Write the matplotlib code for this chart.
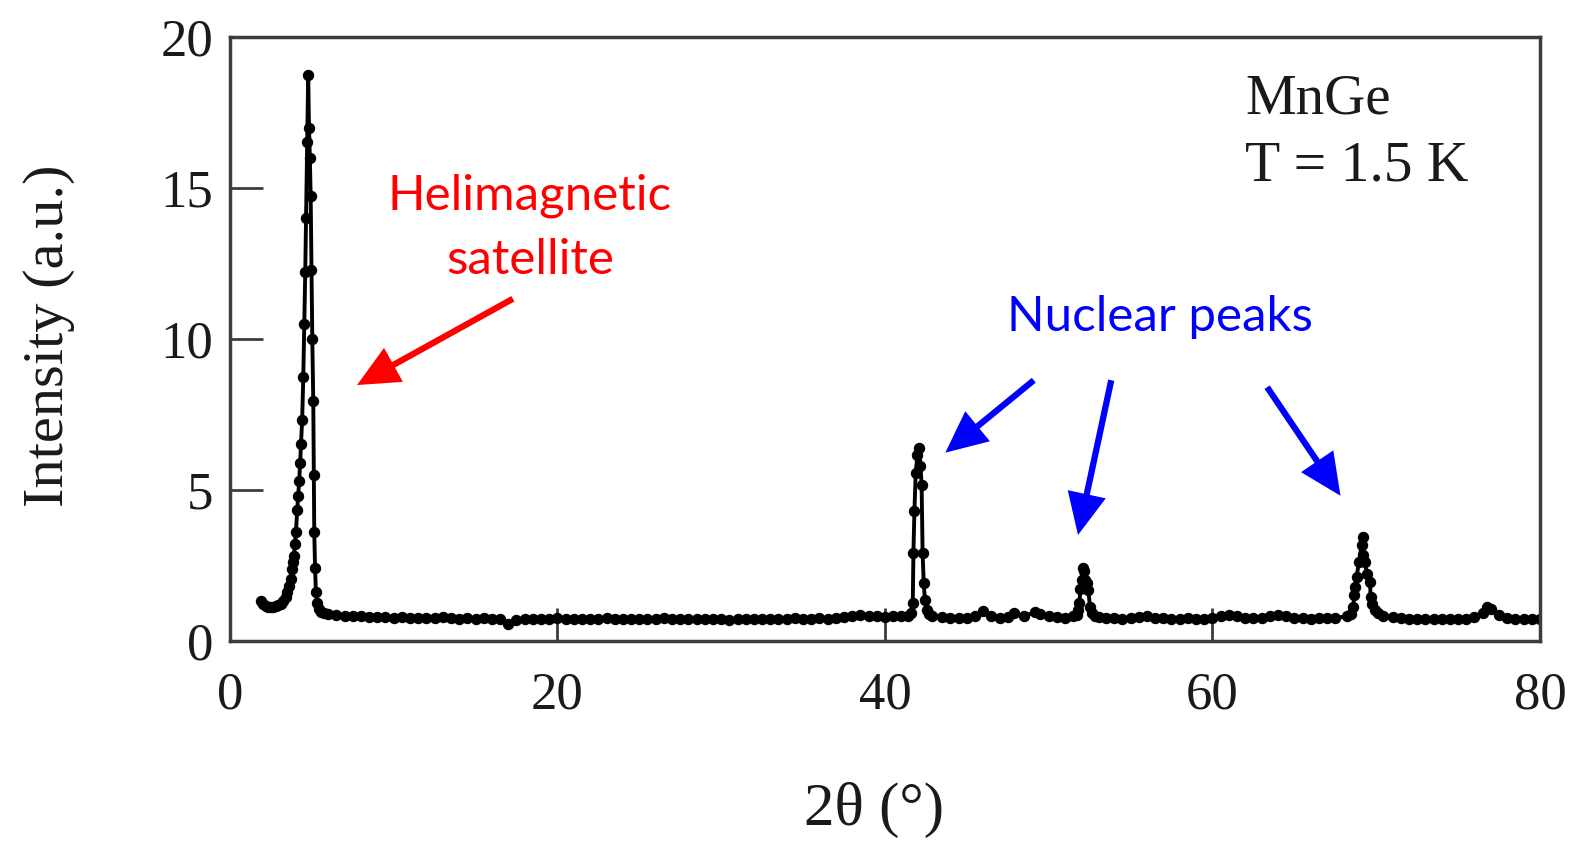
import matplotlib
matplotlib.use('Agg')
import matplotlib.pyplot as plt

# satellite peak near 2theta ~ 4.8
sat_x = [1.9, 2.05, 2.2, 2.35, 2.5, 2.65, 2.8, 2.95, 3.1, 3.25, 3.4, 3.5, 3.6, 3.7,
         3.77, 3.84, 3.91, 3.97, 4.03, 4.11, 4.17, 4.23, 4.29, 4.34, 4.41, 4.48, 4.54,
         4.6, 4.65, 4.72, 4.78, 4.83, 4.88, 4.93, 4.98, 5.03, 5.09, 5.12, 5.15, 5.2,
         5.25, 5.32, 5.42, 5.57, 5.77, 6.0]
sat_y = [1.32, 1.22, 1.16, 1.13, 1.12, 1.12, 1.14, 1.17, 1.22, 1.30, 1.45, 1.6, 1.8, 2.05,
         2.36, 2.6, 2.81, 3.2, 3.6, 4.33, 4.8, 5.3, 5.9, 6.52, 7.3, 8.74, 10.5,
         12.22, 14.0, 16.53, 18.75, 17.0, 16.0, 14.74, 12.3, 10.0, 7.93, 5.5, 3.6, 2.4,
         1.6, 1.25, 1.05, 0.95, 0.9, 0.87]

base1_x = [6.5, 7.0, 7.5, 8.0, 8.5, 9.0, 9.5, 10.0, 10.5, 11.0, 11.5, 12.0, 12.5, 13.0,
           13.5, 14.0, 14.5, 15.0, 15.5, 16.0, 16.5, 17.0, 17.5, 18.0, 18.5, 19.0, 19.5,
           20.0, 20.5, 21.0, 21.5, 22.0, 22.5, 23.0, 23.5, 24.0, 24.5, 25.0, 25.5, 26.0,
           26.5, 27.0, 27.5, 28.0, 28.5, 29.0, 29.5, 30.0, 30.5, 31.0, 31.5, 32.0, 32.5,
           33.0, 33.5, 34.0, 34.5, 35.0, 35.5, 36.0, 36.5, 37.0, 37.5, 38.0, 38.5, 39.0,
           39.5, 40.0, 40.5, 41.0]
base1_y = [0.84, 0.82, 0.80, 0.80, 0.78, 0.79, 0.77, 0.76, 0.77, 0.75, 0.76, 0.74, 0.75, 0.78,
           0.74, 0.73, 0.75, 0.72, 0.74, 0.72, 0.70, 0.55, 0.68, 0.72, 0.70, 0.73, 0.71,
           0.74, 0.72, 0.70, 0.73, 0.71, 0.72, 0.74, 0.70, 0.72, 0.71, 0.73, 0.70, 0.72,
           0.74, 0.71, 0.70, 0.73, 0.71, 0.70, 0.72, 0.71, 0.69, 0.72, 0.70, 0.71, 0.73,
           0.70, 0.72, 0.71, 0.74, 0.72, 0.73, 0.75, 0.73, 0.76, 0.78, 0.80, 0.86, 0.82,
           0.80, 0.79, 0.80, 0.82]

peak42_x = [41.4, 41.6, 41.7, 41.74, 41.8, 41.88, 41.98, 42.09, 42.17, 42.24, 42.3, 42.37,
            42.44, 42.55, 42.7, 42.9]
peak42_y = [0.82, 0.9, 1.24, 2.91, 4.3, 5.54, 6.15, 6.4, 5.8, 5.16, 2.91, 1.9,
            1.35, 1.0, 0.88, 0.8]

base2_x = [43.5, 44.0, 44.5, 45.0, 45.5, 46.0, 46.5, 47.0, 47.5, 47.9, 48.5, 49.15, 49.5,
           50.0, 50.5, 51.0]
base2_y = [0.78, 0.76, 0.74, 0.75, 0.80, 0.97, 0.82, 0.76, 0.78, 0.92, 0.80, 0.95, 0.88,
           0.82, 0.78, 0.76]

peak52_x = [51.5, 51.7, 51.8, 51.87, 51.94, 52.01, 52.07, 52.15, 52.24, 52.34, 52.42, 52.52,
            52.65, 52.85, 53.1]
peak52_y = [0.8, 0.86, 1.0, 1.24, 1.7, 2.01, 2.4, 2.3, 2.0, 1.9, 1.68, 1.12,
            0.92, 0.82, 0.78]

base3_x = [53.5, 54.0, 54.5, 55.0, 55.5, 56.0, 56.5, 57.0, 57.5, 58.0, 58.5, 59.0, 59.5,
           60.0, 60.5, 61.0, 61.5, 62.0, 62.5, 63.0, 63.5, 64.0, 64.5, 65.0, 65.5, 66.0,
           66.5, 67.0, 67.5]
base3_y = [0.76, 0.74, 0.73, 0.75, 0.78, 0.80, 0.76, 0.74, 0.73, 0.72, 0.74, 0.73, 0.72,
           0.75, 0.80, 0.85, 0.80, 0.76, 0.74, 0.76, 0.80, 0.84, 0.80, 0.76, 0.74, 0.73,
           0.75, 0.74, 0.76]

peak69_x = [68.2, 68.45, 68.6, 68.66, 68.7, 68.8, 68.95, 69.11, 69.17, 69.21, 69.3, 69.45,
            69.62, 69.66, 69.75, 69.92, 70.1, 70.4]
peak69_y = [0.8, 0.88, 1.12, 1.5, 1.79, 2.12, 2.6, 3.17, 3.44, 2.84, 2.6, 2.2,
            1.95, 1.46, 1.2, 1.01, 0.9, 0.82]

base4_x = [71.0, 71.5, 72.0, 72.5, 73.0, 73.5, 74.0, 74.5, 75.0, 75.5, 76.0, 76.5, 76.75,
           77.0, 77.5, 78.0, 78.5, 79.0, 79.5, 80.0]
base4_y = [0.78, 0.74, 0.72, 0.73, 0.71, 0.72, 0.70, 0.71, 0.72, 0.73, 0.78, 0.92, 1.1,
           1.05, 0.84, 0.76, 0.72, 0.71, 0.72, 0.73]

two_theta = sat_x + base1_x + peak42_x + base2_x + peak52_x + base3_x + peak69_x + base4_x
intensity = sat_y + base1_y + peak42_y + base2_y + peak52_y + base3_y + peak69_y + base4_y

x_ticks = [0, 20, 40, 60, 80]
y_ticks = [0, 5, 10, 15, 20]

serif = 'Liberation Serif'
sans = 'Lato'
spine_col = '#3c3c3c'
text_col = '#1a1a1a'

fig = plt.figure(figsize=(15.77, 8.42), dpi=100)
ax = fig.add_axes([0.1458, 0.2392, 0.8307, 0.7166])

ax.plot(two_theta, intensity, '-o', color='black', lw=2.8, ms=7.2)

ax.set_xlim(0, 80)
ax.set_ylim(0, 20)
ax.set_xticks(x_ticks)
ax.set_yticks(y_ticks)
ax.tick_params(direction='in', length=24, width=2, color=spine_col,
               labelsize=38, labelcolor=text_col, top=False, right=False)
ax.tick_params(axis='x', pad=22)
ax.tick_params(axis='y', pad=12)
for lab in ax.get_xticklabels() + ax.get_yticklabels():
    lab.set_fontfamily(serif)
for sp in ax.spines.values():
    sp.set_linewidth(2.5)
    sp.set_color(spine_col)

ax.set_xlabel('2θ (°)', fontsize=44, fontfamily=serif, color=text_col)
ax.xaxis.set_label_coords(0.492, -0.235)
ax.set_ylabel('Intensity (a.u.)', fontsize=42, fontfamily=serif, color=text_col)
ax.yaxis.set_label_coords(-0.118, 0.506)

ax.text(62.0, 17.95, 'MnGe', fontsize=41, fontfamily=serif, color=text_col,
        ha='left', va='center')
ax.text(62.0, 15.73, 'T = 1.5 K', fontsize=41.5, fontfamily=serif, color=text_col,
        ha='left', va='center')

ax.text(18.32, 14.73, 'Helimagnetic', fontsize=35.5, fontfamily=sans, color='red',
        ha='center', va='center')
ax.text(18.32, 12.63, 'satellite', fontsize=35.5, fontfamily=sans, color='red',
        ha='center', va='center')
ax.text(56.77, 10.73, 'Nuclear peaks', fontsize=35.5, fontfamily=sans, color='blue',
        ha='center', va='center')

arrow_style = 'simple,head_length=30,head_width=28,tail_width=4.5'
arrows = [((17.28, 11.33), (7.76, 8.47), 'red'),
          ((49.09, 8.63), (43.69, 6.23), 'blue'),
          ((53.82, 8.63), (51.79, 3.5), 'blue'),
          ((63.34, 8.4), (67.82, 4.8), 'blue')]
for tail, head, col in arrows:
    ax.annotate('', xy=head, xytext=tail,
                arrowprops=dict(arrowstyle=arrow_style, mutation_scale=1,
                                fc=col, ec=col, lw=0, shrinkA=0, shrinkB=0))

fig.savefig('out.png', dpi=100)
